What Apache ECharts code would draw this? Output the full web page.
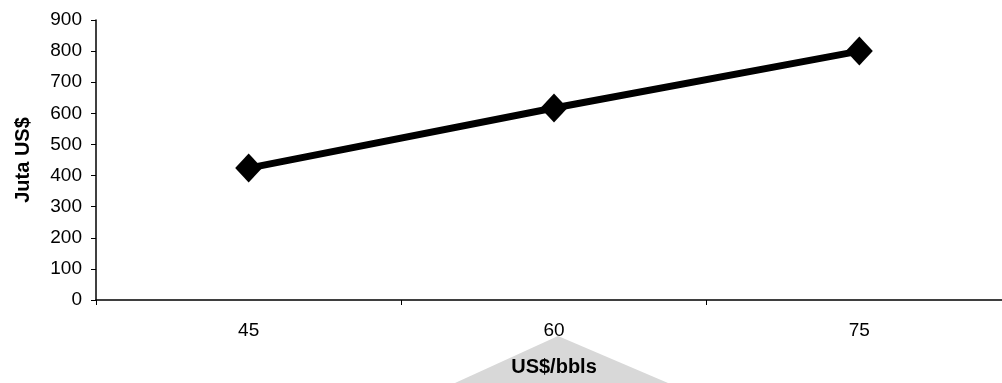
<!doctype html>
<html>
<head>
<meta charset="UTF-8">
<title></title>
<script src="https://cdn.jsdelivr.net/npm/echarts@6/dist/echarts.min.js"></script>
<style>
	html,body{margin:0;padding:0;background:#fff;}
	#main{width:1002px;height:383px;}
</style>
</head>
<body>
<div id="main"></div>
<script>
var prices = ['45', '60', '75'];
var values = [424, 617, 800];
var yTicks = [0, 100, 200, 300, 400, 500, 600, 700, 800, 900];

var chart = echarts.init(document.getElementById('main'));
chart.setOption({
	animation: false,
	backgroundColor: '#fff',
	textStyle: { fontFamily: 'Liberation Sans, Arial' },
	graphic: [{
		type: 'polygon',
		z: -10,
		shape: { points: [[455, 383], [558, 336], [668, 383]] },
		style: { fill: '#d8d8d8' }
	}],
	// the plot runs past the right edge of the picture
	grid: { left: 96, top: 20, width: 916, bottom: 83, outerBoundsMode: 'none' },
	xAxis: {
		type: 'category',
		data: prices,
		boundaryGap: true,
		name: 'US$/bbls',
		nameLocation: 'middle',
		nameGap: 57,
		nameTextStyle: { color: '#000', fontSize: 20, fontWeight: 'bold' },
		axisLine: { lineStyle: { color: '#000', width: 1.5 } },
		axisTick: { show: true, length: 5, lineStyle: { color: '#000' } },
		axisLabel: { color: '#000', fontSize: 19, margin: 21 }
	},
	yAxis: {
		type: 'value',
		min: yTicks[0],
		max: yTicks[yTicks.length - 1],
		interval: 100,
		name: 'Juta US$',
		nameLocation: 'middle',
		nameGap: 63,
		nameRotate: 90,
		nameTextStyle: { color: '#000', fontSize: 20, fontWeight: 'bold' },
		splitLine: { show: false },
		axisLine: { show: true, lineStyle: { color: '#000', width: 1.5 } },
		axisTick: { show: true, length: 5, lineStyle: { color: '#000' } },
		axisLabel: { color: '#000', fontSize: 19, margin: 14 }
	},
	series: [{
		type: 'line',
		data: values,
		symbol: 'diamond',
		symbolSize: [27, 29],
		lineStyle: { color: '#000', width: 7 },
		itemStyle: { color: '#000' }
	}]
});
</script>
</body>
</html>
